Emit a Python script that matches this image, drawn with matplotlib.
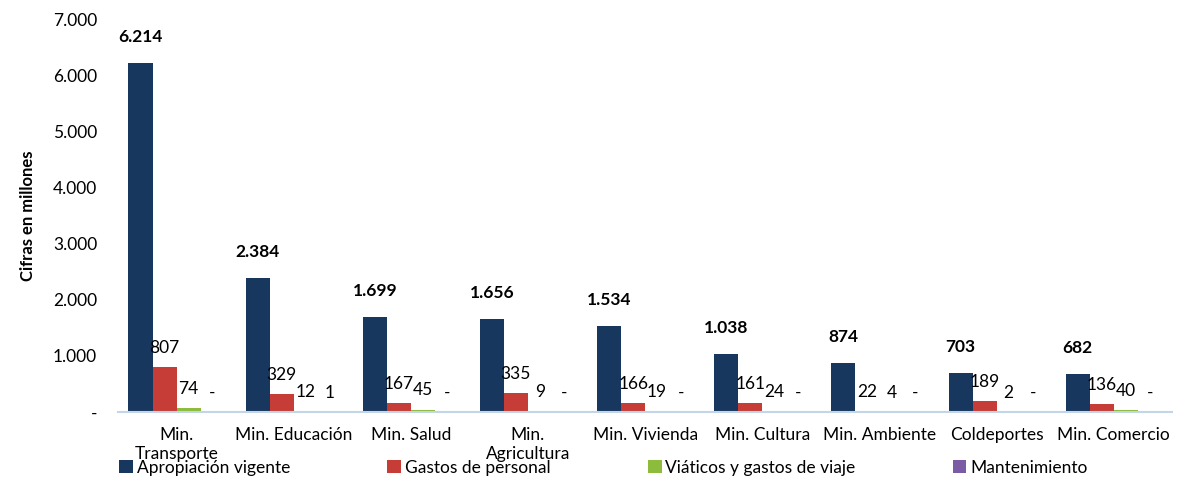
import numpy as np
import matplotlib.pyplot as plt
from matplotlib.ticker import FuncFormatter

plt.rcParams['font.family'] = ['Lato', 'DejaVu Sans']

categorias = ['Min.\nTransporte', 'Min. Educación', 'Min. Salud', 'Min.\nAgricultura',
              'Min. Vivienda', 'Min. Cultura', 'Min. Ambiente', 'Coldeportes', 'Min. Comercio']
apropiacion = [6214, 2384, 1699, 1656, 1534, 1038, 874, 703, 682]
gastos_personal = [807, 329, 167, 335, 166, 161, 22, 189, 136]
viaticos = [74, 12, 45, 9, 19, 24, 4, 2, 40]
mantenimiento = [0, 1, 0, 0, 0, 0, 0, 0, 0]

series = ['Apropiación vigente', 'Gastos de personal', 'Viáticos y gastos de viaje', 'Mantenimiento']
colores = ['#17375E', '#C63C36', '#8DBB3C', '#7B5AA6']


def fmt_num(v):
    if v == 0:
        return '-'
    return f'{v:,.0f}'.replace(',', '.')


fig = plt.figure(figsize=(11.83, 4.9), dpi=100)
ax = fig.add_axes([0.0997, 0.159, 0.8913, 0.802])

x = np.arange(len(categorias))
w = 0.205
datos = [apropiacion, gastos_personal, viaticos, mantenimiento]
for k, (vals, col, nom) in enumerate(zip(datos, colores, series)):
    pos = x + (k - 1.5) * w
    ax.bar(pos, vals, w, color=col, label=nom, zorder=2)
    for p, v in zip(pos, vals):
        if k == 0:
            ax.annotate(fmt_num(v), (p, v), xytext=(0, 13), textcoords='offset points',
                        ha='center', va='bottom', fontsize=12.5, fontweight='bold', color='black')
        else:
            ax.annotate(fmt_num(v), (p, v), xytext=(0, 8), textcoords='offset points',
                        ha='center', va='bottom', fontsize=12.5, color='black')

ax.set_xlim(-0.5, len(categorias) - 0.5)
ax.set_ylim(0, 7000)
ax.set_yticks(np.arange(0, 7001, 1000))
ax.yaxis.set_major_formatter(FuncFormatter(lambda v, p: fmt_num(v)))
ax.set_xticks(x)
ax.set_xticklabels(categorias, fontsize=12.5, linespacing=1.2)
ax.tick_params(axis='both', length=0, labelsize=12.5)
ax.tick_params(axis='x', pad=11)
ax.tick_params(axis='y', pad=15)

for s in ['top', 'right', 'left']:
    ax.spines[s].set_visible(False)
ax.spines['bottom'].set_color('#C5D5E8')
ax.spines['bottom'].set_linewidth(1.5)

ax.set_ylabel('Cifras en millones', fontsize=12, fontweight='bold', labelpad=12)

fig.legend(loc='lower left', bbox_to_anchor=(0.095, 0.015, 0.83, 0.05), mode='expand',
           ncol=4, frameon=False, fontsize=12.5, handlelength=0.8, handleheight=0.8,
           handletextpad=0.2, borderaxespad=0)

fig.savefig('out.png', dpi=100)
